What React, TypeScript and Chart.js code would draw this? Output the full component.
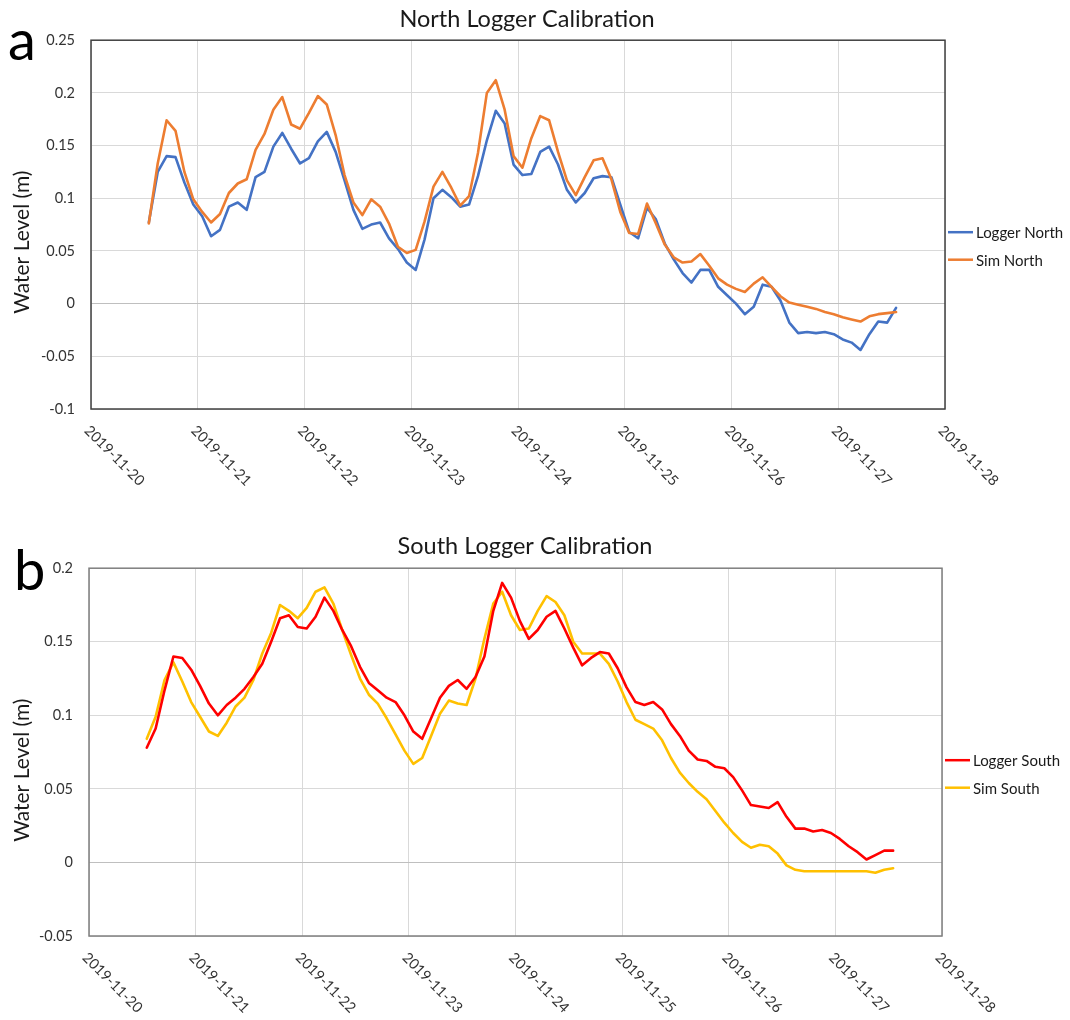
import React, { useEffect, useRef } from 'react';
import { Chart, registerables } from 'chart.js';

Chart.register(...registerables);

// Logged every 2 hours, starting 2019-11-20 13:00
const START_HOUR = 13;
const STEP_HOURS = 2;

const dateTicks = [
  '2019-11-20', '2019-11-21', '2019-11-22', '2019-11-23', '2019-11-24',
  '2019-11-25', '2019-11-26', '2019-11-27', '2019-11-28',
];

const loggerNorth = [
  0.077, 0.125, 0.140, 0.139, 0.115, 0.094, 0.083, 0.064, 0.070, 0.092,
  0.096, 0.089, 0.120, 0.125, 0.149, 0.162, 0.147, 0.133, 0.138, 0.154,
  0.163, 0.144, 0.117, 0.089, 0.071, 0.075, 0.077, 0.062, 0.052, 0.039,
  0.032, 0.061, 0.100, 0.108, 0.101, 0.092, 0.094, 0.121, 0.155, 0.183,
  0.171, 0.132, 0.122, 0.123, 0.144, 0.149, 0.132, 0.108, 0.096, 0.105,
  0.119, 0.121, 0.120, 0.094, 0.068, 0.062, 0.091, 0.080, 0.057, 0.042,
  0.029, 0.020, 0.032, 0.032, 0.016, 0.008, 0.000, -0.010, -0.003, 0.018,
  0.016, 0.003, -0.018, -0.028, -0.027, -0.028, -0.027, -0.029, -0.034, -0.037,
  -0.044, -0.029, -0.017, -0.018, -0.004,
];

const simNorth = [
  0.076, 0.133, 0.174, 0.164, 0.125, 0.099, 0.087, 0.077, 0.085, 0.105,
  0.114, 0.118, 0.146, 0.161, 0.184, 0.196, 0.170, 0.166, 0.181, 0.197,
  0.189, 0.160, 0.122, 0.096, 0.084, 0.099, 0.092, 0.076, 0.054, 0.048,
  0.051, 0.078, 0.111, 0.125, 0.110, 0.093, 0.102, 0.143, 0.200, 0.212,
  0.184, 0.140, 0.129, 0.157, 0.178, 0.174, 0.144, 0.117, 0.103, 0.120,
  0.136, 0.138, 0.118, 0.087, 0.067, 0.066, 0.095, 0.076, 0.056, 0.044,
  0.039, 0.040, 0.047, 0.036, 0.024, 0.018, 0.014, 0.011, 0.019, 0.025,
  0.016, 0.007, 0.001, -0.001, -0.003, -0.005, -0.008, -0.010, -0.013, -0.015,
  -0.017, -0.012, -0.010, -0.009, -0.008,
];

const loggerSouth = [
  0.078, 0.091, 0.117, 0.140, 0.139, 0.131, 0.120, 0.108, 0.100, 0.107,
  0.112, 0.118, 0.126, 0.135, 0.150, 0.166, 0.168, 0.160, 0.159, 0.167,
  0.180, 0.171, 0.158, 0.147, 0.133, 0.122, 0.117, 0.112, 0.109, 0.100,
  0.089, 0.084, 0.098, 0.112, 0.120, 0.124, 0.118, 0.126, 0.140, 0.171,
  0.190, 0.180, 0.164, 0.152, 0.158, 0.167, 0.171, 0.159, 0.146, 0.134,
  0.139, 0.143, 0.142, 0.132, 0.119, 0.109, 0.107, 0.109, 0.104, 0.094,
  0.086, 0.076, 0.070, 0.069, 0.065, 0.064, 0.058, 0.049, 0.039, 0.038,
  0.037, 0.041, 0.031, 0.023, 0.023, 0.021, 0.022, 0.020, 0.016, 0.011,
  0.007, 0.002, 0.005, 0.008, 0.008,
];

const simSouth = [
  0.084, 0.099, 0.124, 0.136, 0.123, 0.109, 0.099, 0.089, 0.086, 0.095,
  0.106, 0.112, 0.124, 0.142, 0.156, 0.175, 0.171, 0.166, 0.173, 0.184,
  0.187, 0.176, 0.158, 0.141, 0.125, 0.114, 0.108, 0.098, 0.087, 0.076,
  0.067, 0.071, 0.086, 0.101, 0.110, 0.108, 0.107, 0.125, 0.152, 0.176,
  0.184, 0.168, 0.158, 0.159, 0.171, 0.181, 0.177, 0.168, 0.150, 0.142,
  0.142, 0.142, 0.135, 0.123, 0.109, 0.097, 0.094, 0.091, 0.083, 0.071,
  0.061, 0.054, 0.048, 0.043, 0.035, 0.027, 0.020, 0.014, 0.010, 0.012,
  0.011, 0.006, -0.002, -0.005, -0.006, -0.006, -0.006, -0.006, -0.006, -0.006,
  -0.006, -0.006, -0.007, -0.005, -0.004,
];

type Series = { label: string; data: number[]; color: string; order: number };
type Panel = {
  letter: string;
  letterX: number;
  letterBaseline: number;
  title: string;
  titlePadTop: number;
  titlePadBottom: number;
  yMin: number;
  yMax: number;
  series: Series[];
  yAxisWidth: number;
  rightWidth: number;
  rightPad: number;
  xAxisHeight: number;
  frameColor: string;
  canvasHeight: number;
};

const panelA: Panel = {
  letter: 'a',
  letterX: 8,
  letterBaseline: 60,
  title: 'North Logger Calibration',
  titlePadTop: 5,
  titlePadBottom: 7,
  yMin: -0.1,
  yMax: 0.25,
  series: [
    { label: 'Logger North', data: loggerNorth, color: '#4472C4', order: 1 },
    { label: 'Sim North', data: simNorth, color: '#ED7D31', order: 0 },
  ],
  yAxisWidth: 91,
  rightWidth: 109,
  rightPad: 16,
  xAxisHeight: 101,
  frameColor: '#404040',
  canvasHeight: 510,
};

const panelB: Panel = {
  letter: 'b',
  letterX: 14,
  letterBaseline: 70,
  title: 'South Logger Calibration',
  titlePadTop: 12.5,
  titlePadBottom: 7.5,
  yMin: -0.05,
  yMax: 0.2,
  series: [
    { label: 'Logger South', data: loggerSouth, color: '#FF0000', order: 0 },
    { label: 'Sim South', data: simSouth, color: '#FFC000', order: 1 },
  ],
  yAxisWidth: 89,
  rightWidth: 108,
  rightPad: 20,
  xAxisHeight: 84,
  frameColor: '#7f7f7f',
  canvasHeight: 500,
};

const FONT = 'Lato';
const TEXT = '#333333';

function fmt(v: number): string {
  const n = Number(Number(v).toFixed(2));
  return (Object.is(n, -0) ? 0 : n).toString();
}

function PanelChart({ p }: { p: Panel }) {
  const ref = useRef<HTMLCanvasElement>(null);

  useEffect(() => {
    const canvas = ref.current;
    if (!canvas) return;

    const decor = {
      id: 'decor',
      afterDraw(chart: any) {
        const { ctx, chartArea: a, scales } = chart;
        const xs = scales.x;
        ctx.save();

        // plot frame
        ctx.strokeStyle = p.frameColor;
        ctx.lineWidth = 1.5;
        ctx.strokeRect(a.left, a.top, a.right - a.left, a.bottom - a.top);

        // rotated date labels
        ctx.font = `14.5px ${FONT}`;
        ctx.fillStyle = TEXT;
        ctx.textAlign = 'left';
        ctx.textBaseline = 'top';
        dateTicks.forEach((lbl, i) => {
          const px = xs.getPixelForValue(i);
          ctx.save();
          ctx.translate(px + 1, a.bottom + 14);
          ctx.rotate(Math.PI / 4);
          ctx.fillText(lbl, 0, 0);
          ctx.restore();
        });

        // y-axis title
        ctx.save();
        ctx.translate(22, a.top + 202);
        ctx.rotate(-Math.PI / 2);
        ctx.font = `21px ${FONT}`;
        ctx.fillStyle = '#1a1a1a';
        ctx.textAlign = 'center';
        ctx.textBaseline = 'middle';
        ctx.fillText('Water Level (m)', 0, 0);
        ctx.restore();

        // legend
        chart.data.datasets.forEach((ds: any, k: number) => {
          const y = a.top + 192 + k * 27.5;
          ctx.beginPath();
          ctx.strokeStyle = ds.borderColor;
          ctx.lineWidth = 2.5;
          ctx.moveTo(a.right + 3, y);
          ctx.lineTo(a.right + 28, y);
          ctx.stroke();
          ctx.font = `15px ${FONT}`;
          ctx.fillStyle = '#1a1a1a';
          ctx.textAlign = 'left';
          ctx.textBaseline = 'middle';
          ctx.fillText(ds.label, a.right + 31, y + 1);
        });

        // panel letter
        ctx.font = `56px ${FONT}`;
        ctx.fillStyle = '#000';
        ctx.textAlign = 'left';
        ctx.textBaseline = 'alphabetic';
        ctx.fillText(p.letter, p.letterX, p.letterBaseline);

        ctx.restore();
      },
    };

    const chart = new Chart(canvas, {
      type: 'line',
      data: {
        datasets: p.series.map((s) => ({
          label: s.label,
          data: s.data.map((v, i) => ({ x: (START_HOUR + i * STEP_HOURS) / 24, y: v })),
          borderColor: s.color,
          backgroundColor: s.color,
          borderWidth: 2.6,
          pointRadius: 0,
          tension: 0,
          order: s.order,
          borderJoinStyle: 'round',
          borderCapStyle: 'round',
        })),
      },
      options: {
        animation: false,
        responsive: false,
        events: [],
        layout: { padding: { left: 0, right: p.rightPad, top: 0, bottom: 0 } },
        plugins: {
          legend: { display: false },
          tooltip: { enabled: false },
          title: {
            display: true,
            text: p.title,
            color: '#1a1a1a',
            font: { family: FONT, size: 23.5, weight: 'normal' },
            padding: { top: p.titlePadTop, bottom: p.titlePadBottom },
          },
        },
        scales: {
          x: {
            type: 'linear',
            min: 0,
            max: dateTicks.length - 1,
            ticks: { display: false, stepSize: 1 },
            grid: { color: '#d9d9d9', drawTicks: false, lineWidth: 1 },
            border: { display: false },
            afterFit: (s: any) => {
              s.height = p.xAxisHeight;
            },
          },
          y: {
            type: 'linear',
            min: p.yMin,
            max: p.yMax,
            ticks: {
              stepSize: 0.05,
              padding: 16,
              color: TEXT,
              font: { family: FONT, size: 14.5 },
              callback: (v: any) => fmt(v),
            },
            grid: {
              drawTicks: false,
              lineWidth: 1,
              color: (c: any) =>
                c.tick && Math.abs(c.tick.value) < 1e-9 ? '#bfbfbf' : '#d9d9d9',
            },
            border: { display: false },
            afterFit: (s: any) => {
              s.width = p.yAxisWidth;
            },
          },
          pad: {
            type: 'linear',
            position: 'right',
            display: true,
            grid: { display: false },
            ticks: { display: false },
            border: { display: false },
            afterFit: (s: any) => {
              s.width = p.rightWidth;
            },
          },
        },
      } as any,
      plugins: [decor],
    });

    return () => chart.destroy();
  }, [p]);

  return (
    <canvas
      ref={ref}
      width={1070}
      height={p.canvasHeight}
      style={{ display: 'block', width: 1070, height: p.canvasHeight }}
    />
  );
}

export default function App() {
  return (
    <div
      style={{
        position: 'absolute',
        left: 0,
        top: 0,
        width: 1070,
        height: 1020,
        background: '#ffffff',
        overflow: 'hidden',
      }}
    >
      <div style={{ position: 'absolute', left: 0, top: 0 }}>
        <PanelChart p={panelA} />
      </div>
      <div style={{ position: 'absolute', left: 0, top: 520 }}>
        <PanelChart p={panelB} />
      </div>
    </div>
  );
}
